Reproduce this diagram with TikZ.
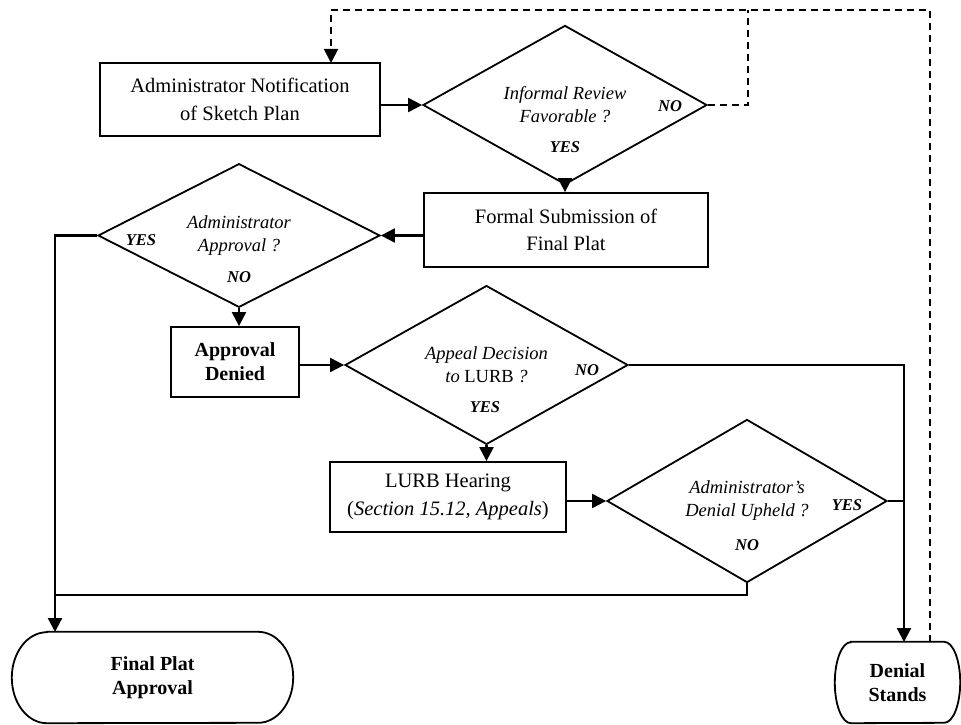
\documentclass[tikz,border=0pt]{standalone}
\usepackage{fontspec}
\setmainfont{Liberation Serif}
\usetikzlibrary{shapes.geometric,arrows.meta}
\begin{document}
\begin{tikzpicture}[x=1pt,y=-1pt,
  box/.style={draw,line width=1.8pt,rectangle,inner sep=0pt,align=center,font=\fontsize{20.5}{27.5}\selectfont},
  dec/.style={draw,line width=1.8pt,diamond,inner sep=0pt,align=center,font=\fontsize{18.5}{23}\selectfont\itshape},
  term/.style={rectangle,inner sep=0pt,align=center,font=\fontsize{20}{24}\selectfont\bfseries},
  yn/.style={inner sep=0pt,font=\fontsize{16.5}{16.5}\selectfont\bfseries\itshape},
  conn/.style={line width=2.2pt},
  arr/.style={line width=2.2pt,-{Triangle[length=14pt,width=14pt]}},
  dsh/.style={line width=2pt,dash pattern=on 7pt off 5pt}
]
\useasboundingbox (0,0) rectangle (961,725);

% boxes
\node[box,minimum width=280pt,minimum height=73pt] (b1) at (240,99.5) {Administrator Notification\\of Sketch Plan};
\node[box,minimum width=284pt,minimum height=74pt] (b2) at (566,230) {Formal Submission of\\Final Plat};
\node[box,minimum width=128pt,minimum height=70pt,font=\fontsize{20}{24}\selectfont\bfseries] (b3) at (235,362) {Approval\\Denied};
\node[box,minimum width=236pt,minimum height=70pt] (b4) at (448,497) {LURB Hearing\\(\textit{Section 15.12, Appeals})};

% decisions
\node[dec,minimum width=284pt,minimum height=118pt] (d1) at (565,105) {Informal Review\\Favorable ?};
\node[dec,minimum width=282pt,minimum height=119pt] (d2) at (239,235.5) {Administrator\\Approval ?};
\node[dec,minimum width=283pt,minimum height=120pt] (d3) at (486.5,365) {Appeal Decision\\to \textup{LURB} ?};
\node[dec,minimum width=280pt,minimum height=118pt] (d4) at (747,501) {Administrator’s\\Denial Upheld ?};

% yes / no labels
\node[yn] (d1no) at (670,106) {NO};
\node[yn] (d1yes) at (565,147) {YES};
\node[yn] (d2yes) at (141,240) {YES};
\node[yn] (d2no) at (239,277) {NO};
\node[yn] (d3no) at (587,370) {NO};
\node[yn] (d3yes) at (485,407) {YES};
\node[yn] (d4yes) at (847,505) {YES};
\node[yn] (d4no) at (747,545) {NO};

% terminals
\node[term,minimum width=281pt,minimum height=91pt] (t1) at (152.5,677.5) {Final Plat\\Approval};
\node[term,minimum width=125pt,minimum height=81pt] (t2) at (897.5,682.5) {Denial\\Stands};
\draw[line width=1.8pt] ([xshift=35pt]t1.north west) -- ([xshift=-35pt]t1.north east)
  arc[start angle=90,end angle=-90,x radius=35pt,y radius=45.5pt]
  -- ([xshift=35pt]t1.south west)
  arc[start angle=270,end angle=90,x radius=35pt,y radius=45.5pt] -- cycle;
\draw[line width=1.8pt] ([xshift=16pt]t2.north west) -- ([xshift=-16pt]t2.north east)
  arc[start angle=90,end angle=-90,x radius=16pt,y radius=40.5pt]
  -- ([xshift=16pt]t2.south west)
  arc[start angle=270,end angle=90,x radius=16pt,y radius=40.5pt] -- cycle;

% helper coordinates
\coordinate (t1in) at (55,632);
\coordinate (j1) at (55,595);
\coordinate (t2in) at (904,642);
\coordinate (t2dash) at (930,642);
\coordinate (topR) at (930,10);
\coordinate (topM) at (748,10);
\coordinate (b1in) at (331,63);

% connectors
\draw[arr] (d1.west -| b1.east) -- (d1.west);
\draw[arr] (d1.south) -- (d1.south |- b2.north);
\draw[arr] (d2.east -| b2.west) -- (d2.east);
\draw[arr] (d2.south) -- (d2.south |- b3.north);
\draw[arr] (d3.west -| b3.east) -- (d3.west);
\draw[arr] (d3.south) -- (d3.south |- b4.north);
\draw[arr] (d4.west -| b4.east) -- (d4.west);
\draw[arr] (d2.west) -| (t1in);
\draw[conn] (d4.south) |- (j1);
\draw[arr] (d3.east) -| (t2in);
\draw[conn] (d4.east) -- (d4.east -| t2in);

% dashed loop back
\draw[dsh] (d1.east) -| (topM);
\draw[dsh,-{Triangle[length=14pt,width=14pt]}] (t2dash) -- (topR) -| (b1in);
\end{tikzpicture}
\end{document}
